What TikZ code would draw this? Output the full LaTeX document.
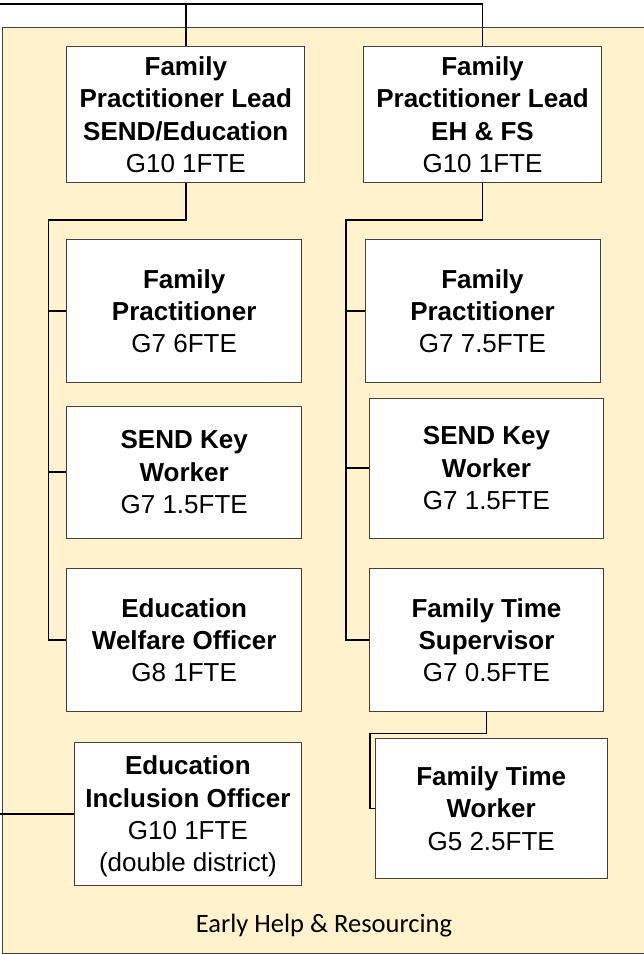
\documentclass[tikz,border=0pt]{standalone}
\usepackage{fontspec}
\setmainfont{Liberation Sans}
\newfontfamily\calibrifont{Carlito}
\definecolor{bgyellow}{HTML}{FFF2CC}
\definecolor{edgegrey}{HTML}{404040}
\begin{document}
\begin{tikzpicture}[x=1pt,y=-1pt,
  orgbox/.style={draw=edgegrey, fill=white, line width=1pt, align=center,
    inner sep=0pt, text depth=0pt, anchor=center,
    font=\fontsize{26}{32.3}\selectfont},
  conn/.style={draw=black, line width=1.6pt},
  thinconn/.style={draw=black, line width=1.1pt},
  area/.style={draw=edgegrey, fill=bgyellow, line width=1pt},
  arealabel/.style={font=\calibrifont\fontsize{26.5}{30}\selectfont, anchor=base, inner sep=0pt}
]
\useasboundingbox (0,0) rectangle (644,954);
\fill[white] (0,0) rectangle (644,954);
% background area
\draw[area] (2.7,27.3) rectangle (670,953.3);
\node[arealabel] (arealbl) at (324,932.3) {Early Help \& Resourcing};

% boxes
\node[orgbox, minimum width=238.3, minimum height=136] (L1) at (185.8,114.7)
  {\textbf{Family}\\\textbf{Practitioner Lead}\\\textbf{SEND/Education}\\G10 1FTE};
\node[orgbox, minimum width=238.4, minimum height=136] (L2) at (482.5,114.7)
  {\textbf{Family}\\\textbf{Practitioner Lead}\\\textbf{EH \& FS}\\G10 1FTE};
\node[orgbox, minimum width=235, minimum height=143.4] (FP1) at (184.2,311)
  {\textbf{Family}\\\textbf{Practitioner}\\G7 6FTE};
\node[orgbox, minimum width=235, minimum height=143.4] (FP2) at (482.5,311)
  {\textbf{Family}\\\textbf{Practitioner}\\G7 7.5FTE};
\node[orgbox, minimum width=235, minimum height=132] (SK1) at (184.2,472)
  {\textbf{SEND Key}\\\textbf{Worker}\\G7 1.5FTE};
\node[orgbox, minimum width=234.4, minimum height=139.7] (SK2) at (486.5,468.2)
  {\textbf{SEND Key}\\\textbf{Worker}\\G7 1.5FTE};
\node[orgbox, minimum width=235, minimum height=143.4] (EWO) at (184.2,640)
  {\textbf{Education}\\\textbf{Welfare Officer}\\G8 1FTE};
\node[orgbox, minimum width=234.4, minimum height=143.4] (FTS) at (486.5,640)
  {\textbf{Family Time}\\\textbf{Supervisor}\\G7 0.5FTE};
\node[orgbox, minimum width=227.7, minimum height=143.4] (EIO) at (187.9,814)
  {\textbf{Education}\\\textbf{Inclusion Officer}\\G10 1FTE\\(double district)};
\node[orgbox, minimum width=232.3, minimum height=140] (FTW) at (491.2,808.3)
  {\textbf{Family Time}\\\textbf{Worker}\\G5 2.5FTE};

% free ends and bends
\coordinate (topin) at (0,4);
\coordinate (eioin) at (0,814);
\coordinate (lbus) at (48.3,220);
\coordinate (rbus) at (346,220);
\coordinate (ftbend) at (370,733.3);

% connectors
\draw[conn] (topin) -| (L2.north);
\draw[conn] (L1.north) -- (L1.north |- topin);
\draw[conn] (L1.south) |- (lbus) |- (EWO.west);
\draw[conn] (lbus |- FP1.west) -- (FP1.west);
\draw[conn] (lbus |- SK1.west) -- (SK1.west);
\draw[conn] (L2.south) |- (rbus) |- (FTS.west);
\draw[conn] (rbus |- FP2.west) -- (FP2.west);
\draw[conn] (rbus |- SK2.west) -- (SK2.west);
\draw[conn] (eioin) -- (EIO.west);
\draw[thinconn] (FTS.south) |- (ftbend) |- (FTW.west);
\end{tikzpicture}
\end{document}
